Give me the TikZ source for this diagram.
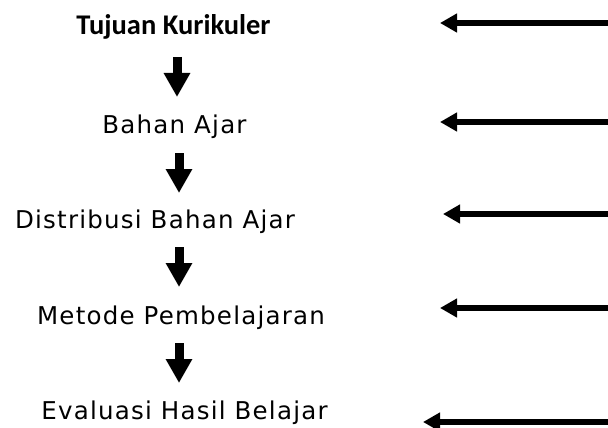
\documentclass[tikz,border=0pt]{standalone}
\usepackage{fontspec}
\setmainfont{DejaVu Sans}[LetterSpace=5]
\newfontfamily\headfont{Carlito}
\usetikzlibrary{arrows.meta}
\begin{document}
\begin{tikzpicture}[x=1pt,y=-1pt,
  label/.style={inner sep=0pt, anchor=base, font=\fontsize{24.5}{26}\selectfont},
  down/.style={line width=9pt, -{Triangle[width=25pt,length=24pt]}},
  feed/.style={line width=6pt, -{Triangle[width=18pt,length=17pt]}}]
\useasboundingbox (0,0) rectangle (608,428);

% stages of the curriculum
\node[label, font=\headfont\bfseries\fontsize{28.5}{30}\selectfont] (t1) at (173.5,35) {Tujuan Kurikuler};
\node[label] (t2) at (174.5,133) {Bahan Ajar};
\node[label] (t3) at (155,228) {Distribusi Bahan Ajar};
\node[label] (t4) at (181,324) {Metode Pembelajaran};
\node[label] (t5) at (184.5,419) {Evaluasi Hasil Belajar};

% down arrows between stages
\coordinate (d1a) at (177,57);  \coordinate (d1b) at (177,97);
\coordinate (d2a) at (179,153); \coordinate (d2b) at (179,193);
\coordinate (d3a) at (179,247); \coordinate (d3b) at (179,287);
\coordinate (d4a) at (179,343); \coordinate (d4b) at (179,383);
\draw[down] (d1a) -- (d1b);
\draw[down] (d2a) -- (d2b);
\draw[down] (d3a) -- (d3b);
\draw[down] (d4a) -- (d4b);

% incoming arrows from the right
\coordinate (r1) at (608,23);  \coordinate (p1) at (440,23);
\coordinate (r2) at (608,122); \coordinate (p2) at (440,122);
\coordinate (r3) at (608,214); \coordinate (p3) at (443,214);
\coordinate (r4) at (608,308); \coordinate (p4) at (440,308);
\coordinate (r5) at (608,422); \coordinate (p5) at (423,422);
\draw[feed] (r1) -- (p1);
\draw[feed] (r2) -- (p2);
\draw[feed] (r3) -- (p3);
\draw[feed] (r4) -- (p4);
\draw[feed] (r5) -- (p5);
\end{tikzpicture}
\end{document}
